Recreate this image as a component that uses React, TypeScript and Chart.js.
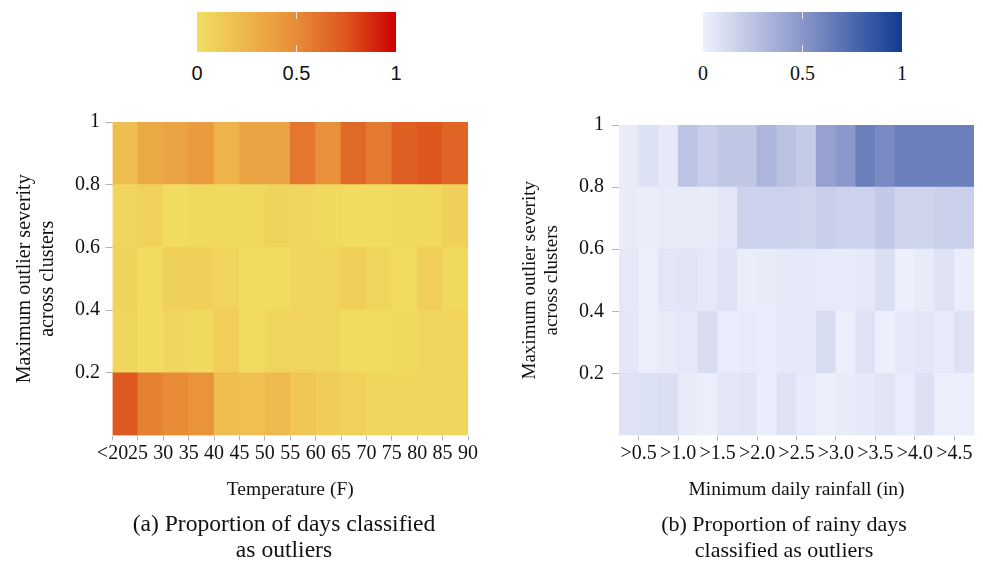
import React, { useEffect, useRef } from 'react';
import { Chart, registerables } from 'chart.js';

Chart.register(...registerables);

const SERIF = '"Liberation Serif", "Times New Roman", serif';
const SANS = '"Liberation Sans", Arial, sans-serif';

// ---- shared y bins (maximum outlier severity) ----
const severityEdges = [0, 0.2, 0.4, 0.6, 0.8, 1];
const severityTicks = [0.2, 0.4, 0.6, 0.8, 1];
const severityTickLabels = ['0.2', '0.4', '0.6', '0.8', '1'];

// ---- (a) temperature heatmap ----
const tempEdges = [20, 25, 30, 35, 40, 45, 50, 55, 60, 65, 70, 75, 80, 85, 90];
const tempTickLabels = ['<20', '25', '30', '35', '40', '45', '50', '55', '60', '65', '70', '75', '80', '85', '90'];
const tempBand0to02 = [0.73, 0.55, 0.5, 0.45, 0.2, 0.19, 0.23, 0.15, 0.11, 0.08, 0.05, 0.05, 0.05, 0.05];
const tempBand02to04 = [0.05, 0.02, 0.05, 0.03, 0.1, 0.01, 0.06, 0.06, 0.05, 0.02, 0.02, 0.03, 0.06, 0.06];
const tempBand04to06 = [0.07, 0.02, 0.09, 0.09, 0.06, 0.01, 0.01, 0.05, 0.06, 0.1, 0.06, 0.02, 0.1, 0.03];
const tempBand06to08 = [0.05, 0.08, 0.01, 0.03, 0.04, 0.04, 0.07, 0.05, 0.04, 0.01, 0.01, 0.03, 0.03, 0.09];
const tempBand08to1 = [0.2, 0.32, 0.36, 0.41, 0.27, 0.36, 0.36, 0.6, 0.47, 0.66, 0.58, 0.71, 0.74, 0.68];

// ---- (b) rainfall heatmap ----
const rainEdges = [0.25, 0.5, 0.75, 1.0, 1.25, 1.5, 1.75, 2.0, 2.25, 2.5, 2.75, 3.0, 3.25, 3.5, 3.75, 4.0, 4.25, 4.5, 4.75];
const rainTicks = [0.5, 1.0, 1.5, 2.0, 2.5, 3.0, 3.5, 4.0, 4.5];
const rainTickLabels = ['>0.5', '>1.0', '>1.5', '>2.0', '>2.5', '>3.0', '>3.5', '>4.0', '>4.5'];
const rainBand0to02 = [0.08, 0.09, 0.1, 0.03, 0.01, 0.06, 0.07, 0.02, 0.08, 0.035, 0.01, 0.03, 0.04, 0.07, 0.025, 0.09, 0.01, 0.01];
const rainBand02to04 = [0.06, 0.01, 0.03, 0.05, 0.11, 0.025, 0.035, 0.025, 0.045, 0.04, 0.11, 0.015, 0.08, 0.005, 0.045, 0.06, 0.035, 0.08];
const rainBand04to06 = [0.05, 0.01, 0.06, 0.07, 0.05, 0.08, 0.02, 0.03, 0.04, 0.04, 0.035, 0.035, 0.05, 0.1, 0.005, 0.03, 0.08, 0.02];
const rainBand06to08 = [0.03, 0.02, 0.03, 0.03, 0.03, 0.06, 0.17, 0.17, 0.17, 0.16, 0.19, 0.17, 0.17, 0.22, 0.16, 0.16, 0.18, 0.18];
const rainBand08to1 = [0.03, 0.09, 0.04, 0.25, 0.19, 0.23, 0.23, 0.33, 0.26, 0.21, 0.44, 0.49, 0.63, 0.57, 0.63, 0.63, 0.63, 0.63];

// ---- colour bars ----
const colorbarTicks = [0, 0.5, 1];
const colorbarTickLabels = ['0', '0.5', '1'];

type Stop = [number, [number, number, number]];
const heatStops: Stop[] = [
  [0, [241, 222, 98]],
  [0.25, [238, 182, 76]],
  [0.5, [232, 140, 55]],
  [0.75, [221, 85, 30]],
  [1, [204, 0, 0]],
];
const blueStops: Stop[] = [
  [0, [238, 241, 252]],
  [0.5, [138, 150, 202]],
  [1, [15, 60, 145]],
];

function colorAt(stops: Stop[], v: number): string {
  const t = Math.max(0, Math.min(1, v));
  for (let i = 0; i < stops.length - 1; i++) {
    const [a, ca] = stops[i];
    const [b, cb] = stops[i + 1];
    if (t <= b) {
      const f = (t - a) / (b - a);
      const c = ca.map((x, k) => Math.round(x + (cb[k] - x) * f));
      return `rgb(${c[0]},${c[1]},${c[2]})`;
    }
  }
  const c = stops[stops.length - 1][1];
  return `rgb(${c[0]},${c[1]},${c[2]})`;
}

function gradientCss(stops: Stop[]): string {
  return `linear-gradient(to right, ${stops
    .map(([p, c]) => `rgb(${c[0]},${c[1]},${c[2]}) ${p * 100}%`)
    .join(', ')})`;
}

interface HeatProps {
  left: number;
  top: number;
  width: number;
  height: number;
  xEdges: number[];
  xTicks: number[];
  xTickLabels: string[];
  bands: number[][];
  stops: Stop[];
  xTitle: string;
  yTitleFont: number;
  yTitlePadTop: number;
  yAxisWidth: number;
  xAxisHeight: number;
  padding: { top: number; right: number; bottom: number; left: number };
  yTickPad: number;
}

function Heatmap(p: HeatProps) {
  const ref = useRef<HTMLCanvasElement | null>(null);
  useEffect(() => {
    if (!ref.current) return;
    const datasets = p.bands.map((band, r) => ({
      data: band.map((_, i) => ({
        x: (p.xEdges[i] + p.xEdges[i + 1]) / 2,
        y: [severityEdges[r], severityEdges[r + 1]],
      })),
      backgroundColor: band.map((v) => colorAt(p.stops, v)),
      borderWidth: 0,
      grouped: false,
      barPercentage: 1,
      categoryPercentage: 1,
    }));
    const chart = new Chart(ref.current, {
      type: 'bar',
      data: { datasets: datasets as any },
      options: {
        responsive: false,
        animation: false,
        devicePixelRatio: 1,
        layout: { padding: p.padding },
        plugins: { legend: { display: false }, tooltip: { enabled: false } },
        scales: {
          x: {
            type: 'linear',
            bounds: 'data',
            min: p.xEdges[0],
            max: p.xEdges[p.xEdges.length - 1],
            offset: false,
            grid: { offset: false, drawOnChartArea: false, drawTicks: true, tickLength: 5, color: '#b4b4b4' },
            border: { display: false },
            afterBuildTicks: (s: any) => {
              s.ticks = p.xTicks.map((v) => ({ value: v }));
            },
            afterFit: (s: any) => {
              s.height = p.xAxisHeight;
            },
            ticks: {
              autoSkip: false,
              maxRotation: 0,
              minRotation: 0,
              padding: 1,
              color: '#111',
              font: { family: SERIF, size: 20 },
              callback: (_v: any, i: number) => p.xTickLabels[i],
            },
            title: {
              display: true,
              text: p.xTitle,
              color: '#111',
              font: { family: SERIF, size: 19.5, lineHeight: 1.2 },
              padding: { top: 0, bottom: 0 },
            },
          },
          y: {
            type: 'linear',
            bounds: 'data',
            min: 0,
            max: 1,
            grid: { drawOnChartArea: false, drawTicks: true, tickLength: 7, color: '#b4b4b4' },
            border: { display: false },
            afterBuildTicks: (s: any) => {
              s.ticks = severityTicks.map((v) => ({ value: v }));
            },
            afterFit: (s: any) => {
              s.width = p.yAxisWidth;
            },
            ticks: {
              padding: p.yTickPad,
              color: '#111',
              font: { family: SERIF, size: 20 },
              callback: (_v: any, i: number) => severityTickLabels[i],
            },
            title: {
              display: true,
              text: ['Maximum outlier severity', 'across clusters'],
              color: '#111',
              font: { family: SERIF, size: p.yTitleFont, lineHeight: 1.15 },
              padding: { top: p.yTitlePadTop, bottom: 0 },
            },
          },
        },
      } as any,
    });
    return () => chart.destroy();
  }, []);
  return (
    <canvas
      ref={ref}
      width={p.width}
      height={p.height}
      style={{ position: 'absolute', left: p.left, top: p.top, width: p.width, height: p.height }}
    />
  );
}

function Colorbar(props: { left: number; stops: Stop[]; font: string; fontSize: number }) {
  const w = 199;
  return (
    <>
      <div
        style={{
          position: 'absolute',
          left: props.left,
          top: 12,
          width: w,
          height: 40,
          background: gradientCss(props.stops),
        }}
      />
      <div style={{ position: 'absolute', left: props.left + w / 2 - 0.5, top: 12, width: 1, height: 7, background: 'rgba(255,255,255,0.8)' }} />
      <div style={{ position: 'absolute', left: props.left + w / 2 - 0.5, top: 45, width: 1, height: 7, background: 'rgba(255,255,255,0.8)' }} />
      {colorbarTicks.map((t, i) => (
        <div
          key={i}
          style={{
            position: 'absolute',
            left: props.left + t * w - 40,
            top: 61,
            width: 80,
            textAlign: 'center',
            fontFamily: props.font,
            fontSize: props.fontSize,
            lineHeight: '24px',
            color: '#111',
          }}
        >
          {colorbarTickLabels[i]}
        </div>
      ))}
    </>
  );
}

function Caption(props: { center: number; lines: string[]; size: number }) {
  return (
    <div
      style={{
        position: 'absolute',
        left: props.center - 200,
        top: 511,
        width: 400,
        textAlign: 'center',
        fontFamily: SERIF,
        fontSize: props.size,
        lineHeight: '25.5px',
        color: '#111',
      }}
    >
      {props.lines.map((l, i) => (
        <div key={i}>{l}</div>
      ))}
    </div>
  );
}

export default function App() {
  return (
    <div style={{ position: 'absolute', left: 0, top: 0, width: 983, height: 565, background: '#fff', overflow: 'hidden' }}>
      <Colorbar left={197} stops={heatStops} font={SANS} fontSize={20} />
      <Colorbar left={703} stops={blueStops} font={SERIF} fontSize={20} />
      <Heatmap
        left={0}
        top={100}
        width={490}
        height={420}
        xEdges={tempEdges}
        xTicks={tempEdges}
        xTickLabels={tempTickLabels}
        bands={[tempBand0to02, tempBand02to04, tempBand04to06, tempBand06to08, tempBand08to1]}
        stops={heatStops}
        xTitle="Temperature (F)"
        yTitleFont={20}
        yTitlePadTop={13.5}
        yAxisWidth={112.5}
        xAxisHeight={66.2}
        padding={{ top: 22, right: 22, bottom: 18.3, left: 0 }}
        yTickPad={5.5}
      />
      <Heatmap
        left={500}
        top={100}
        width={483}
        height={420}
        xEdges={rainEdges}
        xTicks={rainTicks}
        xTickLabels={rainTickLabels}
        bands={[rainBand0to02, rainBand02to04, rainBand04to06, rainBand06to08, rainBand08to1]}
        stops={blueStops}
        xTitle="Minimum daily rainfall (in)"
        yTitleFont={19}
        yTitlePadTop={19}
        yAxisWidth={119}
        xAxisHeight={66.2}
        padding={{ top: 25, right: 9, bottom: 18.3, left: 0 }}
        yTickPad={8}
      />
      <Caption center={284} lines={['(a) Proportion of days classified', 'as outliers']} size={23.6} />
      <Caption center={784} lines={['(b) Proportion of rainy days', 'classified as outliers']} size={22} />
    </div>
  );
}
